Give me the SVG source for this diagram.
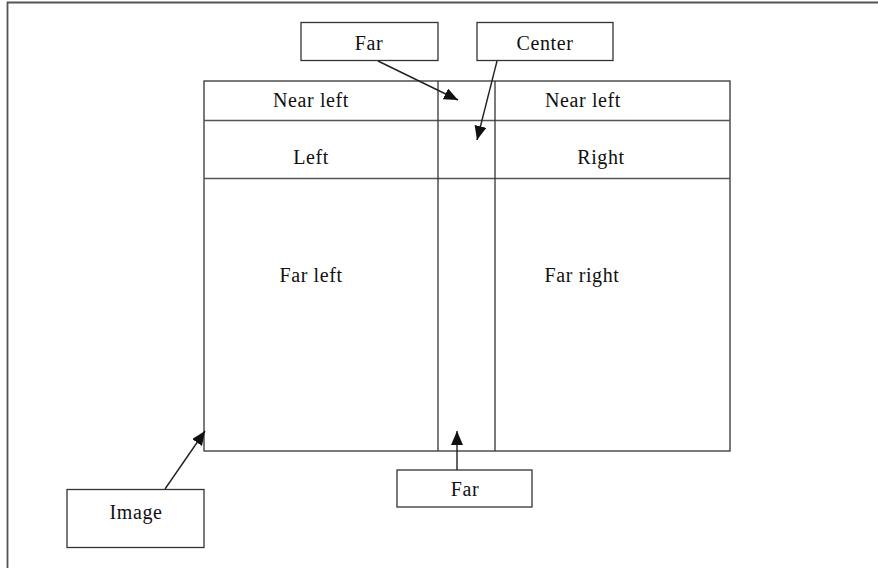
<svg xmlns="http://www.w3.org/2000/svg" width="878" height="568" viewBox="0 0 878 568">
<style>
.box{fill:#fff;stroke:#333;stroke-width:1.3}
.ln{fill:none;stroke:#333;stroke-width:1.3}
.grid{fill:none;stroke:#555;stroke-width:1.6}
.conn{fill:none;stroke:#222;stroke-width:1.4}
text{font-family:"Liberation Serif","Times New Roman",serif;font-size:20px;letter-spacing:0.6px;fill:#111;text-anchor:middle}
</style>
<defs>
<marker id="ah" markerUnits="userSpaceOnUse" markerWidth="16" markerHeight="14" refX="14" refY="6" orient="auto">
<path d="M0,0 L14,6 L0,12 Z" fill="#111"/>
</marker>
</defs>
<rect width="878" height="568" fill="#fff"/>
<g id="frame">
<path d="M878,2.5 H7.5 V568" fill="none" stroke="#555" stroke-width="1.8"/>
</g>
<g id="grid">
<rect x="204" y="81" width="526" height="370" class="box"/>
<line x1="204" y1="120.5" x2="730" y2="120.5" class="grid"/>
<line x1="204" y1="178.5" x2="730" y2="178.5" class="grid"/>
<line x1="438" y1="81" x2="438" y2="451" class="ln"/>
<line x1="495" y1="81" x2="495" y2="451" class="ln"/>
</g>
<g id="cells">
<text x="311" y="107">Near left</text>
<text x="583" y="107">Near left</text>
<text x="311" y="164">Left</text>
<text x="601" y="164">Right</text>
<text x="311" y="282">Far left</text>
<text x="582" y="282">Far right</text>
</g>
<g id="far-top">
<rect x="301" y="22.5" width="137" height="38" class="box"/>
<text x="369" y="50">Far</text>
</g>
<g id="center">
<rect x="477" y="22.5" width="136" height="38" class="box"/>
<text x="545" y="50">Center</text>
</g>
<g id="far-bottom">
<rect x="397" y="470" width="135" height="37" class="box"/>
<text x="465" y="496">Far</text>
</g>
<g id="image">
<rect x="67" y="489.5" width="137" height="58" class="box"/>
<text x="136" y="519">Image</text>
</g>
<g id="connectors">
<line x1="378" y1="61" x2="458" y2="100" class="conn" marker-end="url(#ah)"/>
<line x1="497" y1="61" x2="477" y2="140" class="conn" marker-end="url(#ah)"/>
<line x1="457" y1="470" x2="457" y2="431" class="conn" marker-end="url(#ah)"/>
<line x1="165" y1="489" x2="205" y2="431" class="conn" marker-end="url(#ah)"/>
</g>
</svg>
